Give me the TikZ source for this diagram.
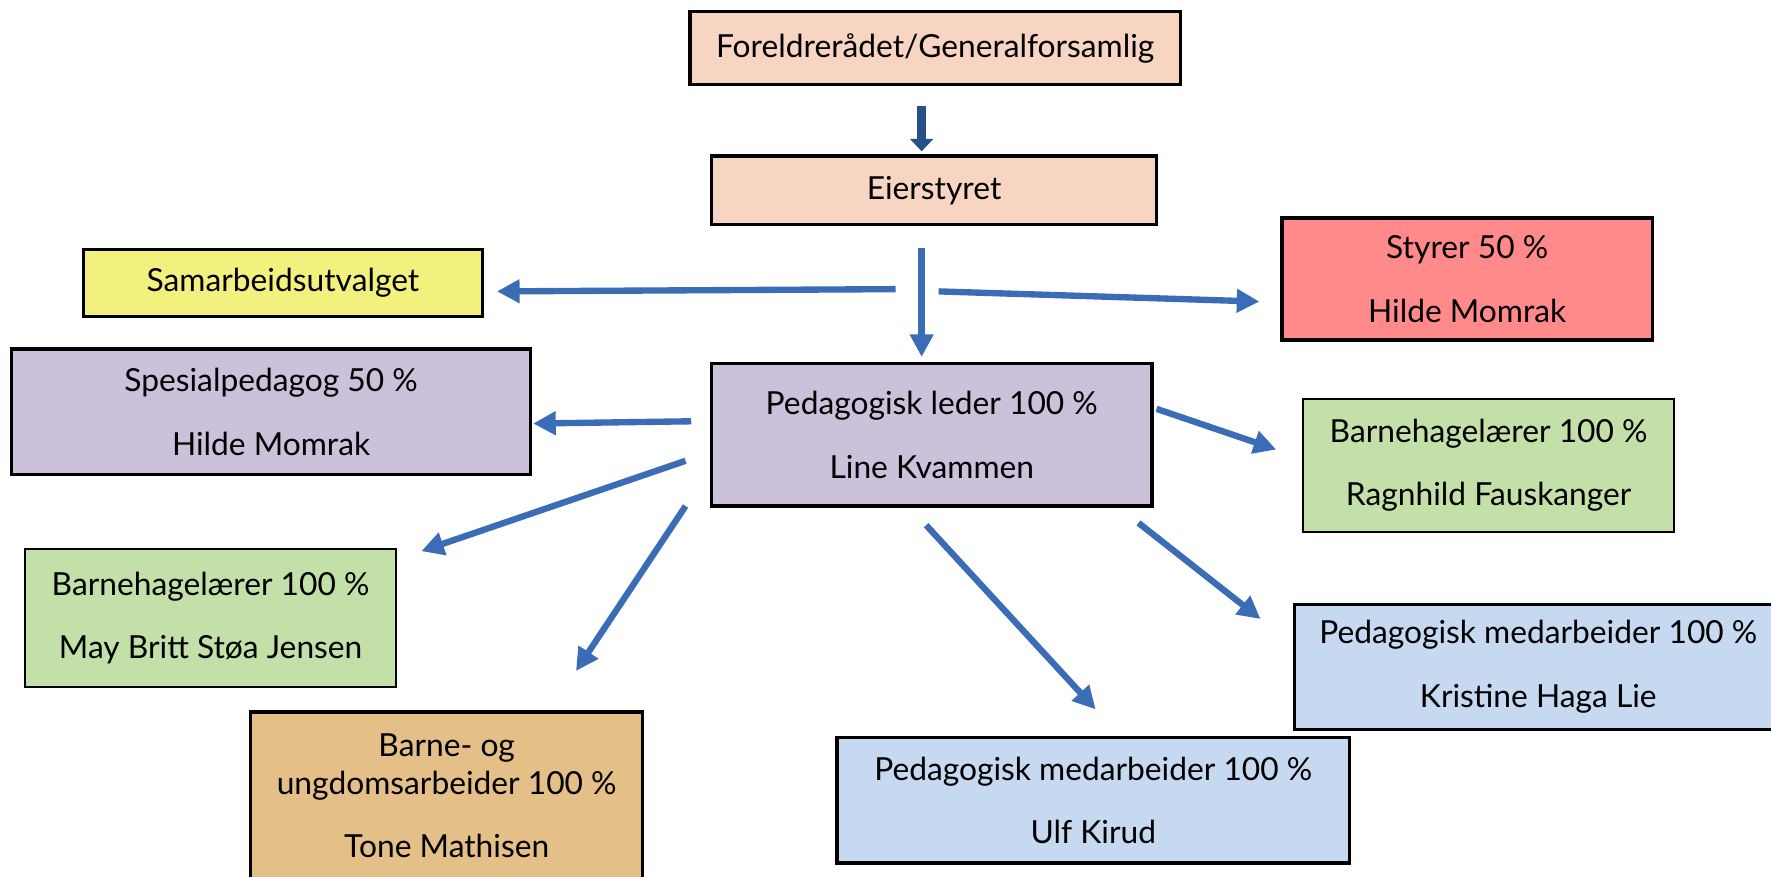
\documentclass[tikz,border=0pt]{standalone}
\usepackage{fontspec}
\setmainfont{Lato}
\usepackage{xcolor}
\usetikzlibrary{arrows.meta}

\definecolor{peach}{HTML}{F8D5C2}
\definecolor{lemon}{HTML}{F3F17E}
\definecolor{rosered}{HTML}{FF8A89}
\definecolor{lilac}{HTML}{CCC1DA}
\definecolor{leaf}{HTML}{C4E0A9}
\definecolor{sand}{HTML}{E4BF87}
\definecolor{sky}{HTML}{C6D9F1}
\definecolor{arrowblue}{HTML}{3A6DB5}
\definecolor{darkblue}{HTML}{25508A}

\begin{document}
\begin{tikzpicture}[x=0.02cm, y=-0.02cm,
    box/.style={draw=black, line width=1.7pt, align=center, inner sep=0pt,
        font=\fontsize{16}{19}\selectfont},
    thinbox/.style={box, line width=1pt},
    arr/.style={draw=arrowblue, line width=3.2pt,
        -{Triangle[width=0.4cm,length=0.4cm]}}]
        % Canvas
        \useasboundingbox (0,0) rectangle (1568,776);
        \clip (0,0) rectangle (1568,776);

        % Top of the organisation
        \node[box, fill=peach, minimum width=8.68cm, minimum height=1.3cm] (foreldre) at (828,42.5) {Foreldrerådet/Generalforsamlig};
        \node[box, fill=peach, minimum width=7.88cm, minimum height=1.22cm] (eier) at (827,168.5) {Eierstyret};

        % Second row
        \node[box, fill=lemon, minimum width=7.06cm, minimum height=1.18cm] (samarbeid) at (250.5,250.5) {Samarbeidsutvalget};
        \node[box, fill=rosered, minimum width=6.56cm, minimum height=2.16cm] (styrer) at (1299,247) {Styrer 50 \%\\[13pt]Hilde Momrak};

        % Pedagogisk leder and staff
        \node[box, fill=lilac, minimum width=7.8cm, minimum height=2.52cm] (leder) at (825,385) {Pedagogisk leder 100 \%\\[13pt]Line Kvammen};
        \node[box, fill=lilac, minimum width=9.2cm, minimum height=2.22cm] (spesial) at (240,364.5) {Spesialpedagog 50 \%\\[13pt]Hilde Momrak};
        \node[thinbox, fill=leaf, minimum width=6.56cm, minimum height=2.36cm] (bhgright) at (1318,412) {Barnehagelærer 100 \%\\[13pt]Ragnhild Fauskanger};
        \node[thinbox, fill=leaf, minimum width=6.58cm, minimum height=2.44cm] (bhgleft) at (186.5,547) {Barnehagelærer 100 \%\\[13pt]May Britt Støa Jensen};
        \node[box, fill=sand, minimum width=6.94cm, anchor=north, inner ysep=11pt, text depth=1.2cm] (ungdom) at (395.5,629) {Barne- og\\ungdomsarbeider 100 \%\\[13pt]Tone Mathisen};
        \node[box, fill=sky, minimum width=8.64cm, minimum height=2.22cm] (kristine) at (1362,590.5) {Pedagogisk medarbeider 100 \%\\[13pt]Kristine Haga Lie};
        \node[box, fill=sky, minimum width=9.08cm, minimum height=2.22cm] (ulf) at (968,708.5) {Pedagogisk medarbeider 100 \%\\[13pt]Ulf Kirud};

        % Arrow ends
        \coordinate (f-e1) at (816,94);   \coordinate (f-e2) at (816,134);
        \coordinate (e-l1) at (816,220);  \coordinate (e-l2) at (816,316);
        \coordinate (e-s1) at (793,256);  \coordinate (e-s2) at (440,258);
        \coordinate (e-r1) at (831,258);  \coordinate (e-r2) at (1115,267);
        \coordinate (l-sp1) at (612,373); \coordinate (l-sp2) at (472,375);
        \coordinate (l-bl1) at (607,408); \coordinate (l-bl2) at (373,488);
        \coordinate (l-u1) at (607,448);  \coordinate (l-u2) at (510,594);
        \coordinate (l-ul1) at (820,465); \coordinate (l-ul2) at (970,628);
        \coordinate (l-k1) at (1008,463); \coordinate (l-k2) at (1116,548);
        \coordinate (l-br1) at (1024,362); \coordinate (l-br2) at (1130,398);

        % Arrows
        \draw[draw=darkblue, line width=4.5pt, -{Triangle[width=0.4cm,length=0.22cm]}] (f-e1) -- (f-e2);
        \foreach \a in {e-l, e-s, e-r, l-sp, l-bl, l-u, l-ul, l-k, l-br}
            \draw[arr] (\a1) -- (\a2);
    \end{tikzpicture}
\end{document}
